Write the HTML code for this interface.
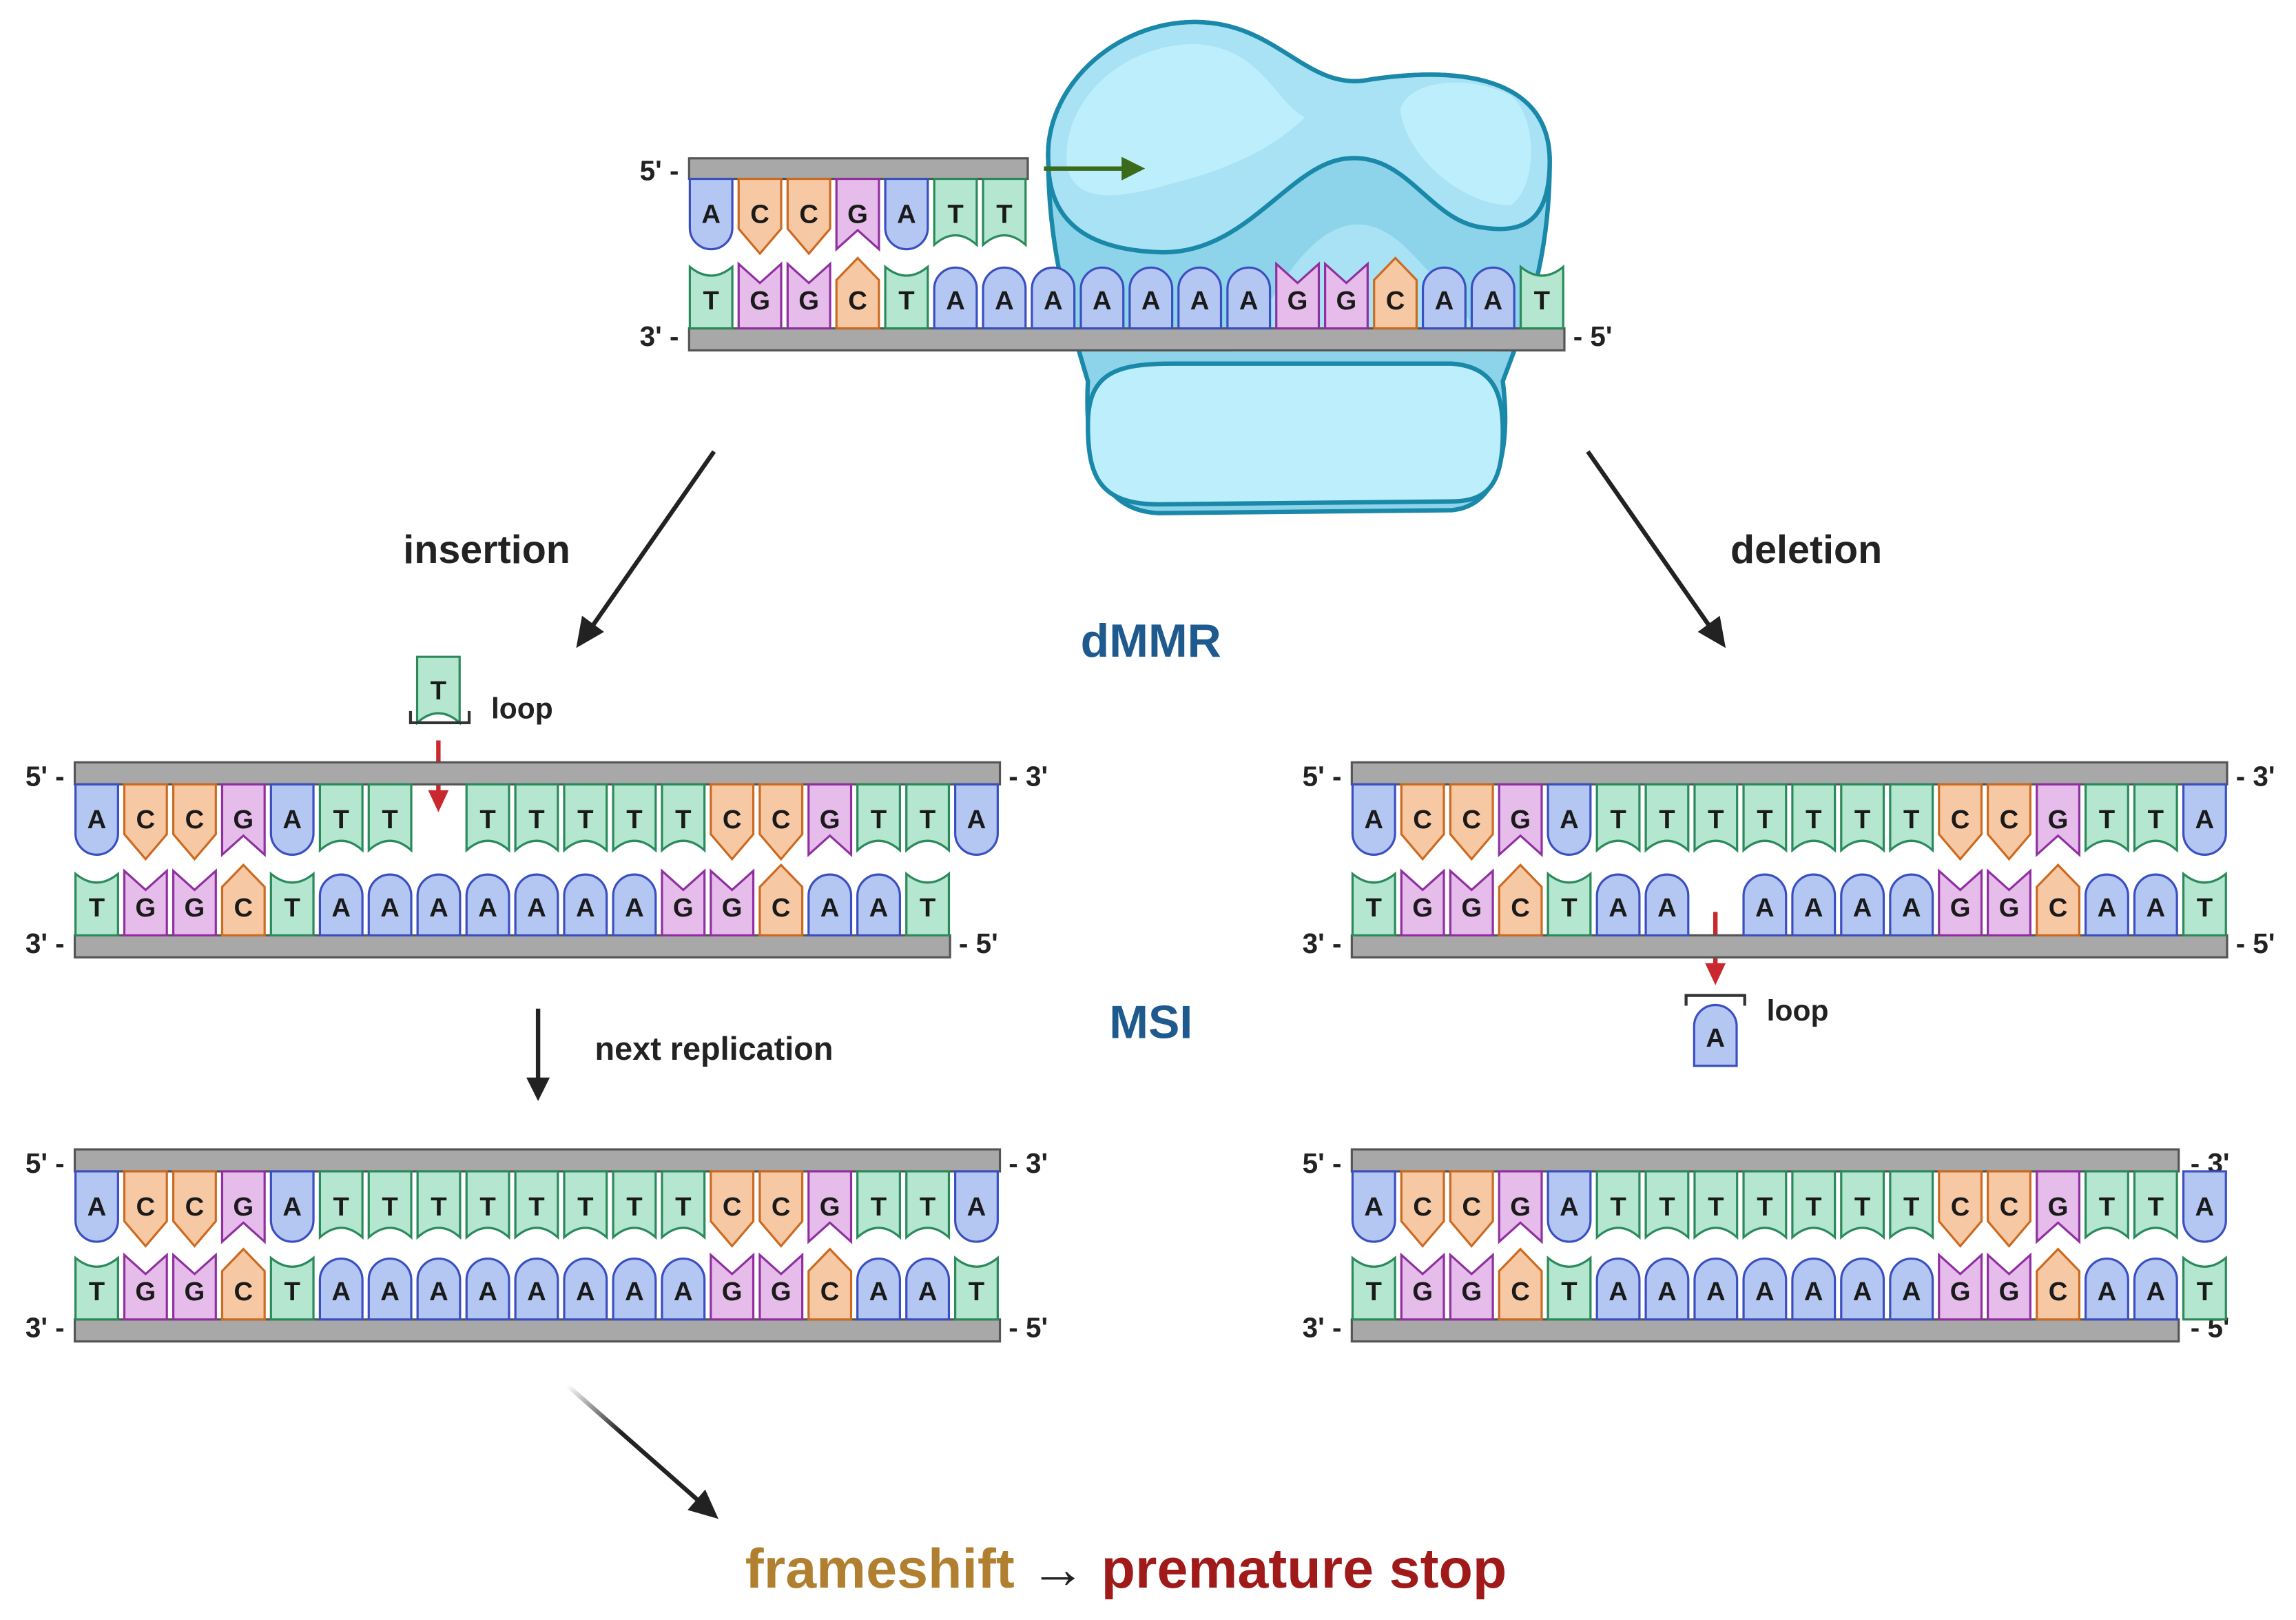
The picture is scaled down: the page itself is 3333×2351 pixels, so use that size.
<!DOCTYPE html>
<html><head><meta charset="utf-8"><style>
html,body{margin:0;padding:0;background:#fff}
svg{display:block}
.n text{font-family:"Liberation Sans",sans-serif;font-weight:bold;font-size:18px;text-anchor:middle;fill:#1a1a1a}
.lb{font-family:"Liberation Sans",sans-serif;font-weight:bold;font-size:19px;fill:#222}
.big{font-family:"Liberation Sans",sans-serif;font-weight:bold;fill:#222}
</style></head><body>
<svg width="3333" height="2351" viewBox="0 0 1566 1105" preserveAspectRatio="none" xmlns="http://www.w3.org/2000/svg">
<defs>
<path id="tA" d="M-14.5,0 V33.5 A14.5,14.5 0 0 0 14.5,33.5 V0 Z" fill="#b4c6f2" stroke="#3a4fc0" stroke-width="1.5"/>
<path id="tC" d="M-14.5,0 V34 L0,51 L14.5,34 V0 Z" fill="#f7c8a4" stroke="#cc6a20" stroke-width="1.5"/>
<path id="tG" d="M-14.5,0 V48 L0,35 L14.5,48 V0 Z" fill="#e6bcea" stroke="#9030a0" stroke-width="1.5"/>
<path id="tT" d="M-14.5,0 V45 Q0,32 14.5,45 V0 Z" fill="#b4e6d0" stroke="#2a8a5a" stroke-width="1.5"/>
<path id="bA" d="M-14.5,0 V-27 A14.5,14.5 0 0 1 14.5,-27 V0 Z" fill="#b4c6f2" stroke="#3a4fc0" stroke-width="1.5"/>
<path id="bC" d="M-14.5,0 V-33 L0,-48 L14.5,-33 V0 Z" fill="#f7c8a4" stroke="#cc6a20" stroke-width="1.5"/>
<path id="bG" d="M-14.5,0 V-44 L0,-31 L14.5,-44 V0 Z" fill="#e6bcea" stroke="#9030a0" stroke-width="1.5"/>
<path id="bT" d="M-14.5,0 V-42 Q0,-30 14.5,-42 V0 Z" fill="#b4e6d0" stroke="#2a8a5a" stroke-width="1.5"/>
<linearGradient id="g1" x1="0" y1="0" x2="1" y2="1"><stop offset="0" stop-color="#222" stop-opacity="0"/><stop offset="0.4" stop-color="#222"/></linearGradient>
<linearGradient id="g2" x1="1" y1="0" x2="0" y2="1"><stop offset="0" stop-color="#222" stop-opacity="0"/><stop offset="0.4" stop-color="#222"/></linearGradient>
</defs>

<!-- protein -->
<path d="M715,110 C712,60 760,15 815,15 C870,15 890,60 930,55 C990,45 1057,50 1057,110 C1057,180 1040,220 1025,260 C1030,300 1025,345 990,348 L790,350 C745,348 740,300 742,260 C730,220 715,170 715,110 Z" fill="#8dd4ea" stroke="#1a88a8" stroke-width="3"/>
<path d="M870,200 C900,150 930,140 960,170 C990,200 1010,230 1020,240 L840,240 Z" fill="#a8e2f4"/>
<path d="M715,110 C712,60 760,15 815,15 C870,15 890,60 930,55 C990,45 1057,50 1057,110 C1057,150 1040,160 1010,155 C975,150 960,105 920,108 C880,110 850,175 790,172 C740,170 715,150 715,110 Z" fill="#a8e2f4" stroke="#1a88a8" stroke-width="3"/>
<path d="M728,115 C722,70 765,30 815,30 C860,32 870,70 890,80 C870,100 840,115 800,125 C765,135 735,140 728,115 Z" fill="#bdeefb"/>
<path d="M955,75 C960,55 1000,50 1030,65 C1050,80 1048,130 1030,140 C1000,140 960,110 955,75 Z" fill="#bdeefb"/>
<path d="M742,290 C742,255 760,248 800,248 L990,248 C1020,250 1025,270 1025,295 C1025,330 1015,342 990,342 L790,344 C750,344 742,325 742,290 Z" fill="#bdeefb" stroke="#1a88a8" stroke-width="3"/>

<!-- green arrow -->
<line x1="712" y1="115" x2="768" y2="115" stroke="#3a6a1a" stroke-width="3"/>
<path d="M765,107 L781,115 L765,123 Z" fill="#3a6a1a"/>

<!-- top diagram -->
<rect x="470" y="108" width="231" height="14" fill="#a8a8a8" stroke="#555" stroke-width="1.5"/>
<rect x="470" y="224" width="597" height="15" fill="#a8a8a8" stroke="#555" stroke-width="1.5"/>
<text class="lb" x="463" y="123" text-anchor="end">5' -</text>
<text class="lb" x="463" y="236" text-anchor="end">3' -</text>
<text class="lb" x="1073" y="236">- 5'</text>
<g class="n" transform="translate(485,122)">
<use href="#tA" x="0"/><text x="0" y="30">A</text>
<use href="#tC" x="33.3"/><text x="33.3" y="30">C</text>
<use href="#tC" x="66.7"/><text x="66.7" y="30">C</text>
<use href="#tG" x="100"/><text x="100" y="30">G</text>
<use href="#tA" x="133.3"/><text x="133.3" y="30">A</text>
<use href="#tT" x="166.7"/><text x="166.7" y="30">T</text>
<use href="#tT" x="200"/><text x="200" y="30">T</text>
</g>
<g class="n" transform="translate(485,224)">
<use href="#bT" x="0"/><text x="0" y="-13">T</text>
<use href="#bG" x="33.3"/><text x="33.3" y="-13">G</text>
<use href="#bG" x="66.7"/><text x="66.7" y="-13">G</text>
<use href="#bC" x="100"/><text x="100" y="-13">C</text>
<use href="#bT" x="133.3"/><text x="133.3" y="-13">T</text>
<use href="#bA" x="166.7"/><text x="166.7" y="-13">A</text>
<use href="#bA" x="200"/><text x="200" y="-13">A</text>
<use href="#bA" x="233.3"/><text x="233.3" y="-13">A</text>
<use href="#bA" x="266.7"/><text x="266.7" y="-13">A</text>
<use href="#bA" x="300"/><text x="300" y="-13">A</text>
<use href="#bA" x="333.3"/><text x="333.3" y="-13">A</text>
<use href="#bA" x="366.7"/><text x="366.7" y="-13">A</text>
<use href="#bG" x="400"/><text x="400" y="-13">G</text>
<use href="#bG" x="433.3"/><text x="433.3" y="-13">G</text>
<use href="#bC" x="466.7"/><text x="466.7" y="-13">C</text>
<use href="#bA" x="500"/><text x="500" y="-13">A</text>
<use href="#bA" x="533.3"/><text x="533.3" y="-13">A</text>
<use href="#bT" x="566.7"/><text x="566.7" y="-13">T</text>
</g>

<!-- arrows -->
<line x1="487" y1="308" x2="402" y2="430" stroke="url(#g1)" stroke-width="3"/>
<path d="M393,442 L397,420 L412,431 Z" fill="#222"/>
<line x1="1083" y1="308" x2="1168" y2="430" stroke="url(#g2)" stroke-width="3"/>
<path d="M1177,442 L1158,431 L1173,420 Z" fill="#222"/>
<line x1="387" y1="945" x2="478" y2="1025" stroke="url(#g1)" stroke-width="3"/>
<path d="M490,1036 L469,1030 L481,1016 Z" fill="#222"/>
<line x1="367" y1="688" x2="367" y2="738" stroke="#222" stroke-width="3"/>
<path d="M359,735 L375,735 L367,751 Z" fill="#222"/>

<text class="big" x="332" y="384" font-size="27" text-anchor="middle">insertion</text>
<text class="big" x="1232" y="384" font-size="27" text-anchor="middle">deletion</text>
<text class="big" x="785" y="448" font-size="32" text-anchor="middle" style="fill:#1e5a8e">dMMR</text>
<text class="big" x="785" y="708" font-size="32" text-anchor="middle" style="fill:#1e5a8e">MSI</text>
<text class="big" x="487" y="723" font-size="22" text-anchor="middle">next replication</text>
<text class="big" x="768" y="1083" font-size="38" text-anchor="middle"><tspan style="fill:#b08030">frameshift</tspan><tspan style="fill:#222"> → </tspan><tspan style="fill:#a01a1a">premature stop</tspan></text>

<!-- insertion loop -->
<g class="n"><use href="#tT" x="299" y="448"/><text x="299" y="477">T</text></g>
<path d="M280,485 V493 H320 V485" fill="none" stroke="#333" stroke-width="2"/>
<text class="big" x="335" y="490" font-size="20">loop</text>
<line x1="299" y1="505" x2="299" y2="542" stroke="#c8282e" stroke-width="3"/>
<path d="M292,539 L306,539 L299,554 Z" fill="#c8282e"/>

<!-- deletion loop -->
<line x1="1170" y1="622" x2="1170" y2="660" stroke="#c8282e" stroke-width="3"/>
<path d="M1163,657 L1177,657 L1170,672 Z" fill="#c8282e"/>
<path d="M1150,686 V679 H1190 V686" fill="none" stroke="#333" stroke-width="2"/>
<g class="n"><use href="#bA" x="1170" y="727"/><text x="1170" y="714">A</text></g>
<text class="big" x="1205" y="696" font-size="20">loop</text>

<!-- middle left -->
<rect x="51" y="520" width="631" height="15" fill="#a8a8a8" stroke="#555" stroke-width="1.5"/>
<rect x="51" y="638" width="597" height="15" fill="#a8a8a8" stroke="#555" stroke-width="1.5"/>
<text class="lb" x="44" y="536" text-anchor="end">5' -</text>
<text class="lb" x="44" y="650" text-anchor="end">3' -</text>
<text class="lb" x="688" y="536">- 3'</text>
<text class="lb" x="654" y="650">- 5'</text>
<g class="n" transform="translate(66,535)">
<use href="#tA" x="0"/><text x="0" y="30">A</text>
<use href="#tC" x="33.3"/><text x="33.3" y="30">C</text>
<use href="#tC" x="66.7"/><text x="66.7" y="30">C</text>
<use href="#tG" x="100"/><text x="100" y="30">G</text>
<use href="#tA" x="133.3"/><text x="133.3" y="30">A</text>
<use href="#tT" x="166.7"/><text x="166.7" y="30">T</text>
<use href="#tT" x="200"/><text x="200" y="30">T</text>
<use href="#tT" x="266.7"/><text x="266.7" y="30">T</text>
<use href="#tT" x="300"/><text x="300" y="30">T</text>
<use href="#tT" x="333.3"/><text x="333.3" y="30">T</text>
<use href="#tT" x="366.7"/><text x="366.7" y="30">T</text>
<use href="#tT" x="400"/><text x="400" y="30">T</text>
<use href="#tC" x="433.3"/><text x="433.3" y="30">C</text>
<use href="#tC" x="466.7"/><text x="466.7" y="30">C</text>
<use href="#tG" x="500"/><text x="500" y="30">G</text>
<use href="#tT" x="533.3"/><text x="533.3" y="30">T</text>
<use href="#tT" x="566.7"/><text x="566.7" y="30">T</text>
<use href="#tA" x="600"/><text x="600" y="30">A</text>
</g>
<g class="n" transform="translate(66,638)">
<use href="#bT" x="0"/><text x="0" y="-13">T</text>
<use href="#bG" x="33.3"/><text x="33.3" y="-13">G</text>
<use href="#bG" x="66.7"/><text x="66.7" y="-13">G</text>
<use href="#bC" x="100"/><text x="100" y="-13">C</text>
<use href="#bT" x="133.3"/><text x="133.3" y="-13">T</text>
<use href="#bA" x="166.7"/><text x="166.7" y="-13">A</text>
<use href="#bA" x="200"/><text x="200" y="-13">A</text>
<use href="#bA" x="233.3"/><text x="233.3" y="-13">A</text>
<use href="#bA" x="266.7"/><text x="266.7" y="-13">A</text>
<use href="#bA" x="300"/><text x="300" y="-13">A</text>
<use href="#bA" x="333.3"/><text x="333.3" y="-13">A</text>
<use href="#bA" x="366.7"/><text x="366.7" y="-13">A</text>
<use href="#bG" x="400"/><text x="400" y="-13">G</text>
<use href="#bG" x="433.3"/><text x="433.3" y="-13">G</text>
<use href="#bC" x="466.7"/><text x="466.7" y="-13">C</text>
<use href="#bA" x="500"/><text x="500" y="-13">A</text>
<use href="#bA" x="533.3"/><text x="533.3" y="-13">A</text>
<use href="#bT" x="566.7"/><text x="566.7" y="-13">T</text>
</g>

<!-- middle right -->
<rect x="922" y="520" width="597" height="15" fill="#a8a8a8" stroke="#555" stroke-width="1.5"/>
<rect x="922" y="638" width="597" height="15" fill="#a8a8a8" stroke="#555" stroke-width="1.5"/>
<text class="lb" x="915" y="536" text-anchor="end">5' -</text>
<text class="lb" x="915" y="650" text-anchor="end">3' -</text>
<text class="lb" x="1525" y="536">- 3'</text>
<text class="lb" x="1525" y="650">- 5'</text>
<g class="n" transform="translate(937,535)">
<use href="#tA" x="0"/><text x="0" y="30">A</text>
<use href="#tC" x="33.3"/><text x="33.3" y="30">C</text>
<use href="#tC" x="66.7"/><text x="66.7" y="30">C</text>
<use href="#tG" x="100"/><text x="100" y="30">G</text>
<use href="#tA" x="133.3"/><text x="133.3" y="30">A</text>
<use href="#tT" x="166.7"/><text x="166.7" y="30">T</text>
<use href="#tT" x="200"/><text x="200" y="30">T</text>
<use href="#tT" x="233.3"/><text x="233.3" y="30">T</text>
<use href="#tT" x="266.7"/><text x="266.7" y="30">T</text>
<use href="#tT" x="300"/><text x="300" y="30">T</text>
<use href="#tT" x="333.3"/><text x="333.3" y="30">T</text>
<use href="#tT" x="366.7"/><text x="366.7" y="30">T</text>
<use href="#tC" x="400"/><text x="400" y="30">C</text>
<use href="#tC" x="433.3"/><text x="433.3" y="30">C</text>
<use href="#tG" x="466.7"/><text x="466.7" y="30">G</text>
<use href="#tT" x="500"/><text x="500" y="30">T</text>
<use href="#tT" x="533.3"/><text x="533.3" y="30">T</text>
<use href="#tA" x="566.7"/><text x="566.7" y="30">A</text>
</g>
<g class="n" transform="translate(937,638)">
<use href="#bT" x="0"/><text x="0" y="-13">T</text>
<use href="#bG" x="33.3"/><text x="33.3" y="-13">G</text>
<use href="#bG" x="66.7"/><text x="66.7" y="-13">G</text>
<use href="#bC" x="100"/><text x="100" y="-13">C</text>
<use href="#bT" x="133.3"/><text x="133.3" y="-13">T</text>
<use href="#bA" x="166.7"/><text x="166.7" y="-13">A</text>
<use href="#bA" x="200"/><text x="200" y="-13">A</text>
<use href="#bA" x="266.7"/><text x="266.7" y="-13">A</text>
<use href="#bA" x="300"/><text x="300" y="-13">A</text>
<use href="#bA" x="333.3"/><text x="333.3" y="-13">A</text>
<use href="#bA" x="366.7"/><text x="366.7" y="-13">A</text>
<use href="#bG" x="400"/><text x="400" y="-13">G</text>
<use href="#bG" x="433.3"/><text x="433.3" y="-13">G</text>
<use href="#bC" x="466.7"/><text x="466.7" y="-13">C</text>
<use href="#bA" x="500"/><text x="500" y="-13">A</text>
<use href="#bA" x="533.3"/><text x="533.3" y="-13">A</text>
<use href="#bT" x="566.7"/><text x="566.7" y="-13">T</text>
</g>

<!-- bottom left -->
<rect x="51" y="784" width="631" height="15" fill="#a8a8a8" stroke="#555" stroke-width="1.5"/>
<rect x="51" y="900" width="631" height="15" fill="#a8a8a8" stroke="#555" stroke-width="1.5"/>
<text class="lb" x="44" y="800" text-anchor="end">5' -</text>
<text class="lb" x="44" y="912" text-anchor="end">3' -</text>
<text class="lb" x="688" y="800">- 3'</text>
<text class="lb" x="688" y="912">- 5'</text>
<g class="n" transform="translate(66,799)">
<use href="#tA" x="0"/><text x="0" y="30">A</text>
<use href="#tC" x="33.3"/><text x="33.3" y="30">C</text>
<use href="#tC" x="66.7"/><text x="66.7" y="30">C</text>
<use href="#tG" x="100"/><text x="100" y="30">G</text>
<use href="#tA" x="133.3"/><text x="133.3" y="30">A</text>
<use href="#tT" x="166.7"/><text x="166.7" y="30">T</text>
<use href="#tT" x="200"/><text x="200" y="30">T</text>
<use href="#tT" x="233.3"/><text x="233.3" y="30">T</text>
<use href="#tT" x="266.7"/><text x="266.7" y="30">T</text>
<use href="#tT" x="300"/><text x="300" y="30">T</text>
<use href="#tT" x="333.3"/><text x="333.3" y="30">T</text>
<use href="#tT" x="366.7"/><text x="366.7" y="30">T</text>
<use href="#tT" x="400"/><text x="400" y="30">T</text>
<use href="#tC" x="433.3"/><text x="433.3" y="30">C</text>
<use href="#tC" x="466.7"/><text x="466.7" y="30">C</text>
<use href="#tG" x="500"/><text x="500" y="30">G</text>
<use href="#tT" x="533.3"/><text x="533.3" y="30">T</text>
<use href="#tT" x="566.7"/><text x="566.7" y="30">T</text>
<use href="#tA" x="600"/><text x="600" y="30">A</text>
</g>
<g class="n" transform="translate(66,900)">
<use href="#bT" x="0"/><text x="0" y="-13">T</text>
<use href="#bG" x="33.3"/><text x="33.3" y="-13">G</text>
<use href="#bG" x="66.7"/><text x="66.7" y="-13">G</text>
<use href="#bC" x="100"/><text x="100" y="-13">C</text>
<use href="#bT" x="133.3"/><text x="133.3" y="-13">T</text>
<use href="#bA" x="166.7"/><text x="166.7" y="-13">A</text>
<use href="#bA" x="200"/><text x="200" y="-13">A</text>
<use href="#bA" x="233.3"/><text x="233.3" y="-13">A</text>
<use href="#bA" x="266.7"/><text x="266.7" y="-13">A</text>
<use href="#bA" x="300"/><text x="300" y="-13">A</text>
<use href="#bA" x="333.3"/><text x="333.3" y="-13">A</text>
<use href="#bA" x="366.7"/><text x="366.7" y="-13">A</text>
<use href="#bA" x="400"/><text x="400" y="-13">A</text>
<use href="#bG" x="433.3"/><text x="433.3" y="-13">G</text>
<use href="#bG" x="466.7"/><text x="466.7" y="-13">G</text>
<use href="#bC" x="500"/><text x="500" y="-13">C</text>
<use href="#bA" x="533.3"/><text x="533.3" y="-13">A</text>
<use href="#bA" x="566.7"/><text x="566.7" y="-13">A</text>
<use href="#bT" x="600"/><text x="600" y="-13">T</text>
</g>

<!-- bottom right -->
<rect x="922" y="784" width="564" height="15" fill="#a8a8a8" stroke="#555" stroke-width="1.5"/>
<rect x="922" y="900" width="564" height="15" fill="#a8a8a8" stroke="#555" stroke-width="1.5"/>
<text class="lb" x="915" y="800" text-anchor="end">5' -</text>
<text class="lb" x="915" y="912" text-anchor="end">3' -</text>
<text class="lb" x="1494" y="800">- 3'</text>
<text class="lb" x="1494" y="912">- 5'</text>
<g class="n" transform="translate(937,799)">
<use href="#tA" x="0"/><text x="0" y="30">A</text>
<use href="#tC" x="33.3"/><text x="33.3" y="30">C</text>
<use href="#tC" x="66.7"/><text x="66.7" y="30">C</text>
<use href="#tG" x="100"/><text x="100" y="30">G</text>
<use href="#tA" x="133.3"/><text x="133.3" y="30">A</text>
<use href="#tT" x="166.7"/><text x="166.7" y="30">T</text>
<use href="#tT" x="200"/><text x="200" y="30">T</text>
<use href="#tT" x="233.3"/><text x="233.3" y="30">T</text>
<use href="#tT" x="266.7"/><text x="266.7" y="30">T</text>
<use href="#tT" x="300"/><text x="300" y="30">T</text>
<use href="#tT" x="333.3"/><text x="333.3" y="30">T</text>
<use href="#tT" x="366.7"/><text x="366.7" y="30">T</text>
<use href="#tC" x="400"/><text x="400" y="30">C</text>
<use href="#tC" x="433.3"/><text x="433.3" y="30">C</text>
<use href="#tG" x="466.7"/><text x="466.7" y="30">G</text>
<use href="#tT" x="500"/><text x="500" y="30">T</text>
<use href="#tT" x="533.3"/><text x="533.3" y="30">T</text>
<use href="#tA" x="566.7"/><text x="566.7" y="30">A</text>
</g>
<g class="n" transform="translate(937,900)">
<use href="#bT" x="0"/><text x="0" y="-13">T</text>
<use href="#bG" x="33.3"/><text x="33.3" y="-13">G</text>
<use href="#bG" x="66.7"/><text x="66.7" y="-13">G</text>
<use href="#bC" x="100"/><text x="100" y="-13">C</text>
<use href="#bT" x="133.3"/><text x="133.3" y="-13">T</text>
<use href="#bA" x="166.7"/><text x="166.7" y="-13">A</text>
<use href="#bA" x="200"/><text x="200" y="-13">A</text>
<use href="#bA" x="233.3"/><text x="233.3" y="-13">A</text>
<use href="#bA" x="266.7"/><text x="266.7" y="-13">A</text>
<use href="#bA" x="300"/><text x="300" y="-13">A</text>
<use href="#bA" x="333.3"/><text x="333.3" y="-13">A</text>
<use href="#bA" x="366.7"/><text x="366.7" y="-13">A</text>
<use href="#bG" x="400"/><text x="400" y="-13">G</text>
<use href="#bG" x="433.3"/><text x="433.3" y="-13">G</text>
<use href="#bC" x="466.7"/><text x="466.7" y="-13">C</text>
<use href="#bA" x="500"/><text x="500" y="-13">A</text>
<use href="#bA" x="533.3"/><text x="533.3" y="-13">A</text>
<use href="#bT" x="566.7"/><text x="566.7" y="-13">T</text>
</g>
</svg>
</body></html>
